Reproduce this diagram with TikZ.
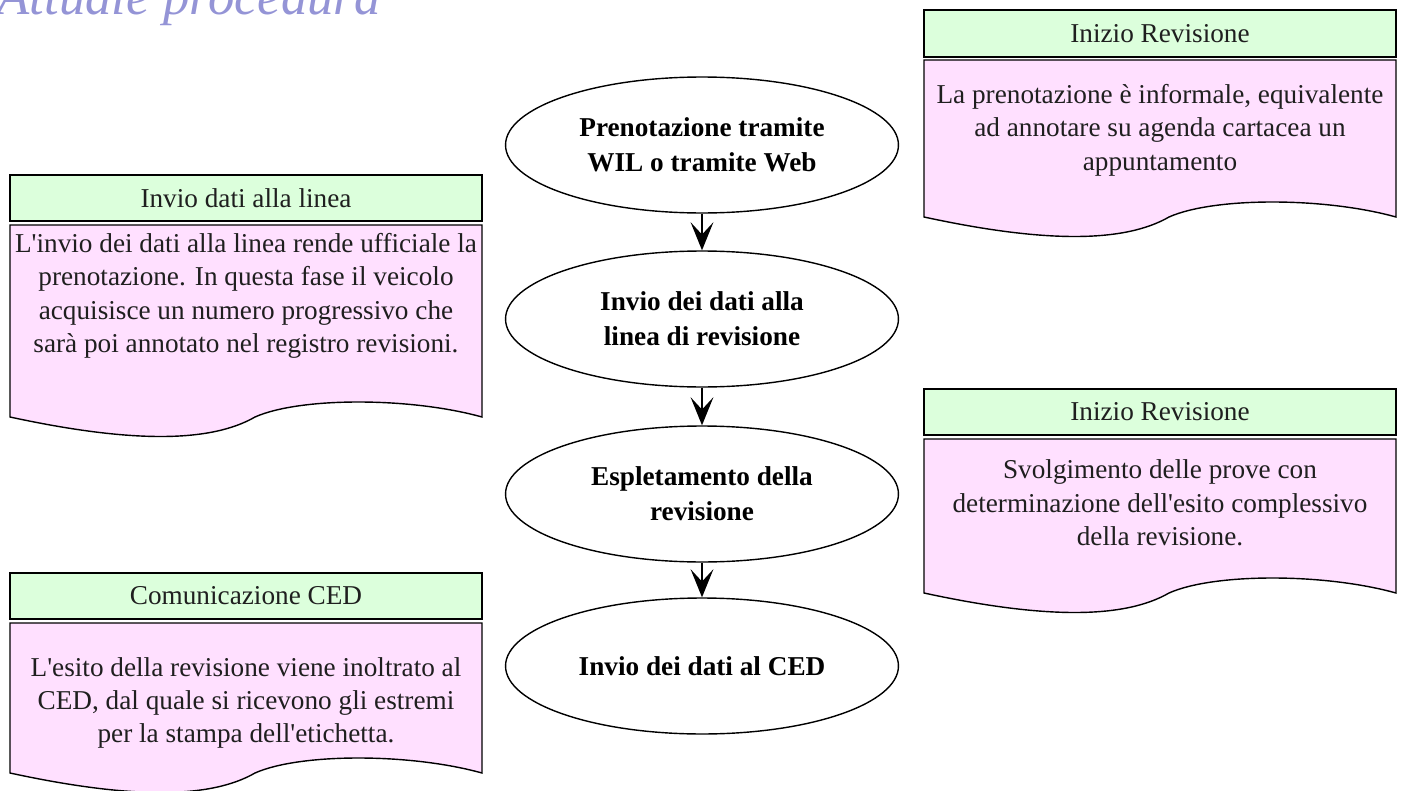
\documentclass[tikz,border=0pt]{standalone}
\usepackage{fontspec}
\setmainfont{Liberation Serif}
\usetikzlibrary{shapes.geometric,arrows.meta}
\definecolor{hdrgreen}{RGB}{220,255,220}
\definecolor{bodypink}{RGB}{255,224,255}
\definecolor{titleblue}{RGB}{148,148,214}
\newcommand\docshape[4]{%
  \path[docbody] (#1,#3) -- (#2,#3) -- (#2,#4)
    .. controls ({#2-72},{#4-20}) and ({#1+290},{#4-20}) .. ({#1+245},#4)
    .. controls ({#1+200},{#4+26}) and ({#1+120},{#4+26}) .. (#1,#4) -- cycle;}
\newcommand\apos{\textquotesingle}
\begin{document}
\begin{tikzpicture}[x=0.02cm,y=-0.02cm,
  line width=0.8pt,
  hdrbox/.style={draw=black, fill=hdrgreen},
  docbody/.style={draw=black, fill=bodypink},
  hdrtext/.style={font=\fontsize{15.5}{19}\selectfont, text=black!88, inner sep=0},
  bodytext/.style={font=\fontsize{15.5}{19}\selectfont, align=center, text=black!88, inner sep=0},
  stepell/.style={ellipse, draw=black, fill=white, minimum width=7.86cm, minimum height=2.72cm,
    inner sep=0, align=center, font=\fontsize{15.5}{20}\selectfont\bfseries},
  flow/.style={-{Stealth[length=16pt,width=13pt,inset=7pt]}, line width=0.8pt}
]
\useasboundingbox (0,0) rectangle (1407,791);
\clip (0,0) rectangle (1407,791);

% title (cut at top)
\node[anchor=base west, inner sep=0, text=titleblue, font=\fontsize{30}{34}\selectfont\itshape] (title) at (-3,14) {Attuale procedura};

% top-right box
\path[hdrbox] (924,10) rectangle (1396,57);
\node[hdrtext] (h1) at (1160,33.5) {Inizio Revisione};
\docshape{924}{1396}{60}{217}
\node[bodytext] (b1) at (1160,130) {La prenotazione è informale, equivalente\\ad annotare su agenda cartacea un\\appuntamento};

% left box 1
\path[hdrbox] (10,175) rectangle (482,221);
\node[hdrtext] (h2) at (246,198) {Invio dati alla linea};
\docshape{10}{482}{225}{417}
\node[bodytext] (b2) at (246,296) {L\apos invio dei dati alla linea rende ufficiale la\\prenotazione. In questa fase il veicolo\\acquisisce un numero progressivo che\\sarà poi annotato nel registro revisioni.};

% middle-right box
\path[hdrbox] (924,389) rectangle (1396,435);
\node[hdrtext] (h3) at (1160,412) {Inizio Revisione};
\docshape{924}{1396}{439}{593}
\node[bodytext] (b3) at (1160,503) {Svolgimento delle prove con\\determinazione dell\apos esito complessivo\\della revisione.};

% bottom-left box
\path[hdrbox] (10,573) rectangle (482,619);
\node[hdrtext] (h4) at (246,596) {Comunicazione CED};
\docshape{10}{482}{623}{773}
\node[bodytext] (b4) at (246,703) {L\apos esito della revisione viene inoltrato al\\CED, dal quale si ricevono gli estremi\\per la stampa dell\apos etichetta.};

% flow ellipses
\node[stepell] (e1) at (702,145) {Prenotazione tramite\\WIL o tramite Web};
\node[stepell] (e2) at (702,319) {Invio dei dati alla\\linea di revisione};
\node[stepell] (e3) at (702,494) {Espletamento della\\revisione};
\node[stepell] (e4) at (702,666) {Invio dei dati al CED};

\draw[flow] (e1.south) -- (e2.north);
\draw[flow] (e2.south) -- (e3.north);
\draw[flow] (e3.south) -- (e4.north);
\end{tikzpicture}
\end{document}
